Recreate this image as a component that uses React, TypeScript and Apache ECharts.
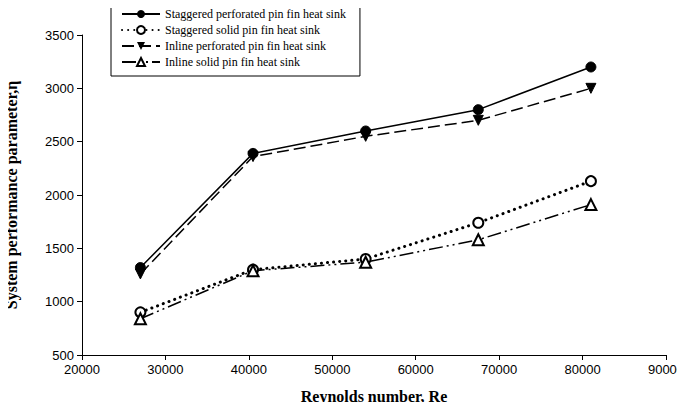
import React, { useEffect, useRef } from "react";
import * as echarts from "echarts";

const reynolds = [27000, 40500, 54000, 67500, 81000];
const staggeredPerforated = [1320, 2390, 2600, 2800, 3200];
const staggeredSolid = [900, 1300, 1400, 1740, 2130];
const inlinePerforated = [1260, 2360, 2550, 2700, 3000];
const inlineSolid = [840, 1290, 1370, 1580, 1910];
const seriesNames = [
  "Staggered perforated pin fin heat sink",
  "Staggered solid pin fin heat sink",
  "Inline perforated pin fin heat sink",
  "Inline solid pin fin heat sink",
];

const pairs = (ys: number[]) => reynolds.map((x, i) => [x, ys[i]]);

export default function App() {
  const ref = useRef<HTMLDivElement>(null);
  useEffect(() => {
    const chart = echarts.init(ref.current!, undefined, { renderer: "svg" });
    const serif = "'Liberation Serif', 'Times New Roman', serif";
    const sans = "'Liberation Sans', Arial, sans-serif";
    chart.setOption({
      animation: false,
      backgroundColor: "#fff",
      grid: { left: 82, right: 19, top: 35, bottom: 55, outerBoundsMode: "none", containLabel: false },
      legend: {
        orient: "vertical",
        left: 111,
        top: 1,
        itemWidth: 38,
        itemHeight: 10,
        itemGap: 4,
        padding: [7, 14, 8, 10],
        borderColor: "#000",
        borderWidth: 1,
        textStyle: { fontFamily: serif, fontSize: 12, color: "#000" },
        data: seriesNames,
      },
      xAxis: {
        type: "value",
        min: 20000,
        max: 90000,
        interval: 10000,
        name: "Reynolds number, Re",
        nameLocation: "middle",
        nameGap: 33,
        nameTextStyle: { fontFamily: serif, fontSize: 16, fontWeight: "bold", color: "#000" },
        axisLine: { lineStyle: { color: "#000", width: 1 } },
        axisTick: { length: 5, lineStyle: { color: "#000" } },
        axisLabel: { fontFamily: sans, fontSize: 13, color: "#000", margin: 8, formatter: (v: number) => String(v) },
        splitLine: { show: false },
      },
      yAxis: {
        type: "value",
        min: 500,
        max: 3500,
        interval: 500,
        name: "System performance parameter,η",
        nameLocation: "middle",
        nameGap: 63,
        nameTextStyle: { fontFamily: serif, fontSize: 16, fontWeight: "bold", color: "#000" },
        axisLine: { show: true, lineStyle: { color: "#000", width: 1 } },
        axisTick: { show: true, length: 5, lineStyle: { color: "#000" } },
        axisLabel: { fontFamily: sans, fontSize: 13, color: "#000", margin: 8, formatter: (v: number) => String(v) },
        splitLine: { show: false },
      },
      series: [
        {
          name: seriesNames[0],
          type: "line",
          data: pairs(staggeredPerforated),
          symbol: "circle",
          symbolSize: 10,
          itemStyle: { color: "#000", borderColor: "#000" },
          lineStyle: { color: "#000", width: 1.5, type: "solid" },
        },
        {
          name: seriesNames[1],
          type: "line",
          data: pairs(staggeredSolid),
          symbol: "emptyCircle",
          symbolSize: 10,
          itemStyle: { color: "#000", borderColor: "#000", borderWidth: 1.2 },
          lineStyle: { color: "#000", width: 3, type: [0.1, 6], cap: "round" },
        },
        {
          name: seriesNames[2],
          type: "line",
          data: pairs(inlinePerforated),
          symbol: "triangle",
          symbolRotate: 180,
          symbolSize: 10,
          itemStyle: { color: "#000", borderColor: "#000" },
          lineStyle: { color: "#000", width: 1.5, type: [12, 5] },
        },
        {
          name: seriesNames[3],
          type: "line",
          data: pairs(inlineSolid),
          symbol: "emptyTriangle",
          symbolSize: 11,
          itemStyle: { color: "#000", borderColor: "#000", borderWidth: 1.2 },
          lineStyle: { color: "#000", width: 1.5, type: [14, 4, 2, 4, 2, 4] },
        },
      ],
    });
    return () => chart.dispose();
  }, []);
  return <div ref={ref} style={{ width: 685, height: 410, margin: -8 }} />;
}
